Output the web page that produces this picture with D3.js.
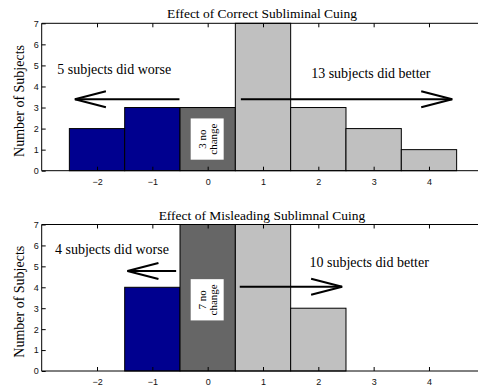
<!DOCTYPE html>
<html>
<head>
<meta charset="utf-8">
<script src="https://cdn.jsdelivr.net/npm/d3@7"></script>
<style>
  body { margin: 0; background: #fff; }
  svg { display: block; }
  .tick text { font-family: "Liberation Sans", Arial, sans-serif; font-size: 9px; fill: #111; }
  .serif { font-family: "Liberation Serif", "Times New Roman", serif; fill: #000; }
</style>
</head>
<body>
<svg id="chart" width="478" height="386"></svg>
<script>
// bins (change in score) and subject counts
const bins = [-2, -1, 0, 1, 2, 3, 4];
const correctCounts = [2, 3, 3, 7, 3, 2, 1];
const misleadCounts = [0, 4, 7, 7, 3, 0, 0];
const yTicks = [0, 1, 2, 3, 4, 5, 6, 7];

const titles = ["Effect of Correct Subliminal Cuing", "Effect of Misleading Sublimnal Cuing"];
const worseLabels = ["5 subjects did worse", "4 subjects did worse"];
const betterLabels = ["13 subjects did better", "10 subjects did better"];
const noChangeLabels = [["3 no", "change"], ["7 no", "change"]];

// annotation anchors in data units: [textX, textY, arrowFrom, arrowTo, arrowY]
const worseNotes = [[-2.72, 4.59, -0.51, -2.4, 3.39], [-2.76, 5.59, -0.57, -1.45, 4.78]];
const betterNotes = [[1.87, 4.42, 0.6, 4.42, 3.39], [1.84, 4.97, 0.58, 2.43, 4.03]];
const noChangeY = [1.5, 3.4];

const svg = d3.select("#chart");
const x = d3.scaleLinear().domain([-3, 5]).range([41.7, 484.3]);

function colorFor(b) {
  if (b < 0) return "#00008f";
  if (b == 0) return "#666666";
  return "#c0c0c0";
}

function drawPanel(counts, idx, yTop, yBottom) {
  const y = d3.scaleLinear().domain([0, 7]).range([yBottom, yTop]);
  const g = svg.append("g");
  const rows = bins.map((b, i) => ({ bin: b, value: counts[i] }));

  // bars
  g.selectAll(".bar")
    .data(rows.filter(d => d.value > 0))
    .enter()
    .append("rect")
    .attr("x", d => x(d.bin - 0.5))
    .attr("y", d => y(d.value))
    .attr("width", d => x(d.bin + 0.5) - x(d.bin - 0.5))
    .attr("height", d => y(0) - y(d.value))
    .attr("fill", d => colorFor(d.bin))
    .attr("stroke", "#000")
    .attr("stroke-width", 1);

  // axes, matlab style ticks pointing inward
  g.append("g")
    .attr("transform", "translate(0," + yBottom + ")")
    .call(d3.axisBottom(x).tickValues(bins).tickSize(-4).tickPadding(8)
      .tickFormat(d => d < 0 ? "\u2212" + Math.abs(d) : d))
    .call(a => a.select(".domain").attr("d", "M" + x(-3) + ",0H" + x(5)));
  g.append("g")
    .attr("transform", "translate(0," + yTop + ")")
    .call(d3.axisTop(x).tickValues(bins).tickSize(-4).tickFormat(""))
    .call(a => a.select(".domain").attr("d", "M" + x(-3) + ",0H" + x(5)));
  g.append("g")
    .attr("transform", "translate(" + x(-3) + ",0)")
    .call(d3.axisLeft(y).tickValues(yTicks).tickSize(-4).tickPadding(3).tickFormat(d3.format("d")))
    .call(a => a.select(".domain").attr("d", "M0," + yTop + "V" + yBottom));

  // title and y label
  svg.append("text").attr("class", "serif")
    .attr("x", 262).attr("y", yTop - 5)
    .attr("text-anchor", "middle").attr("font-size", "13.5px")
    .text(titles[idx]);
  svg.append("text").attr("class", "serif")
    .attr("transform", "translate(24," + ((yTop + yBottom) / 2 + 4) + ")rotate(-90)")
    .attr("text-anchor", "middle").attr("font-size", "14px")
    .text("Number of Subjects");

  // annotations
  [worseNotes[idx], betterNotes[idx]].forEach((n, k) => {
    g.append("text").attr("class", "serif")
      .attr("x", x(n[0])).attr("y", y(n[1]))
      .attr("font-size", "14px")
      .text(k == 0 ? worseLabels[idx] : betterLabels[idx]);
    const ay = y(n[4]);
    const x1 = x(n[2]), x2 = x(n[3]);
    const dir = x2 > x1 ? -1 : 1;
    g.append("line").attr("x1", x1).attr("x2", x2).attr("y1", ay).attr("y2", ay)
      .attr("stroke", "#000").attr("stroke-width", 2);
    g.append("path")
      .attr("d", "M" + (x2 + dir * 31) + "," + (ay - 8) + "L" + x2 + "," + ay + "L" + (x2 + dir * 31) + "," + (ay + 8))
      .attr("fill", "none").attr("stroke", "#000").attr("stroke-width", 2);
  });

  // no change box in the middle bar
  const box = g.append("g").attr("transform", "translate(" + x(0) + "," + y(noChangeY[idx]) + ")");
  const rect = box.append("rect").attr("fill", "#fff");
  const t = box.append("text").attr("class", "serif")
    .attr("transform", "rotate(-90)")
    .attr("text-anchor", "middle").attr("font-size", "11px");
  noChangeLabels[idx].forEach((s, i) => {
    t.append("tspan").attr("x", 0).attr("y", i == 0 ? -2 : 9).text(s);
  });
  const bb = box.node().getBBox();
  rect.attr("x", bb.x - 5).attr("y", bb.y - 5)
    .attr("width", bb.width + 10).attr("height", bb.height + 10);
}

drawPanel(correctCounts, 0, 23.3, 170.7);
drawPanel(misleadCounts, 1, 224.5, 371);
</script>
</body>
</html>
